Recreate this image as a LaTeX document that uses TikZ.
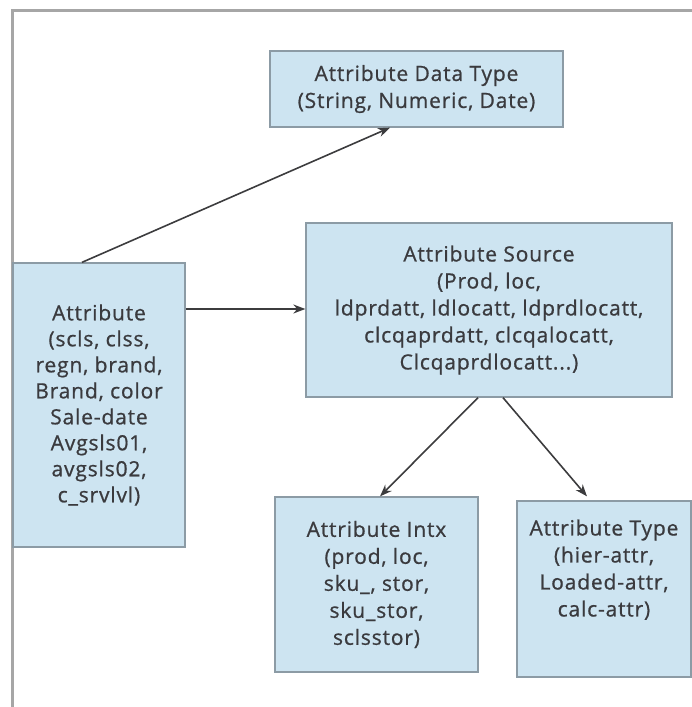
\documentclass[tikz,border=0pt]{standalone}
\usepackage{fontspec}
\setmainfont[LetterSpace=4,RawFeature={embolden=0.8}]{Open Sans}
\usetikzlibrary{arrows.meta}
\definecolor{boxfill}{RGB}{205,228,241}
\definecolor{boxline}{RGB}{140,155,165}
\definecolor{txtgray}{RGB}{58,58,62}
\definecolor{framegray}{RGB}{166,166,166}
\definecolor{arrowgray}{RGB}{60,60,62}
\begin{document}
\begin{tikzpicture}[x=1pt,y=-1pt]
      \tikzset{attrbox/.style={draw=boxline, fill=boxfill, line width=1.3pt, align=center,
               text=txtgray, font=\fontsize{21}{27}\selectfont, inner sep=0pt}}
      \tikzset{conn/.style={draw=arrowgray, line width=1.6pt, -{Stealth[length=12pt,width=9pt]}}}
      \useasboundingbox (0,0) rectangle (692,707);
%% Frame
      \draw[framegray, line width=3pt] (12,707) -- (12,10) -- (692,10);
%% Boxes
      \node[attrbox, minimum width=293pt, minimum height=76pt] (dtype) at (416.5,89) {Attribute Data Type\\(String, Numeric, Date)};
      \node[attrbox, minimum width=366pt, minimum height=174pt] (source) at (489,310) {Attribute Source\\(Prod, loc,\\ldprdatt, ldlocatt, ldprdlocatt,\\clcqaprdatt, clcqalocatt,\\Clcqaprdlocatt...)};
      \node[attrbox, minimum width=172pt, minimum height=284pt, font=\fontsize{21}{26}\selectfont] (attr) at (99,405) {Attribute\\(scls, clss,\\regn, brand,\\Brand, color\\Sale-date\\Avgsls01,\\avgsls02,\\c\_srvlvl)};
      \node[attrbox, minimum width=203pt, minimum height=175pt] (intx) at (376.5,584.5) {Attribute Intx\\(prod, loc,\\sku\_, stor,\\sku\_stor,\\sclsstor)};
      \node[attrbox, minimum width=174pt, minimum height=176pt] (type) at (604,589) {Attribute Type\\(hier-attr,\\Loaded-attr,\\calc-attr)\\[15pt]~};
%% Connectors
      \path[conn] ([xshift=-17pt]attr.north) -- ([xshift=-26.5pt]dtype.south);
      \path[conn] ([yshift=96pt]attr.east) -- ([yshift=1pt]source.west);
      \path[conn] ([xshift=-11pt]source.south) -- ([xshift=3.5pt]intx.north);
      \path[conn] ([xshift=14pt]source.south) -- ([xshift=-17pt,yshift=4pt]type.north);
\end{tikzpicture}
\end{document}
